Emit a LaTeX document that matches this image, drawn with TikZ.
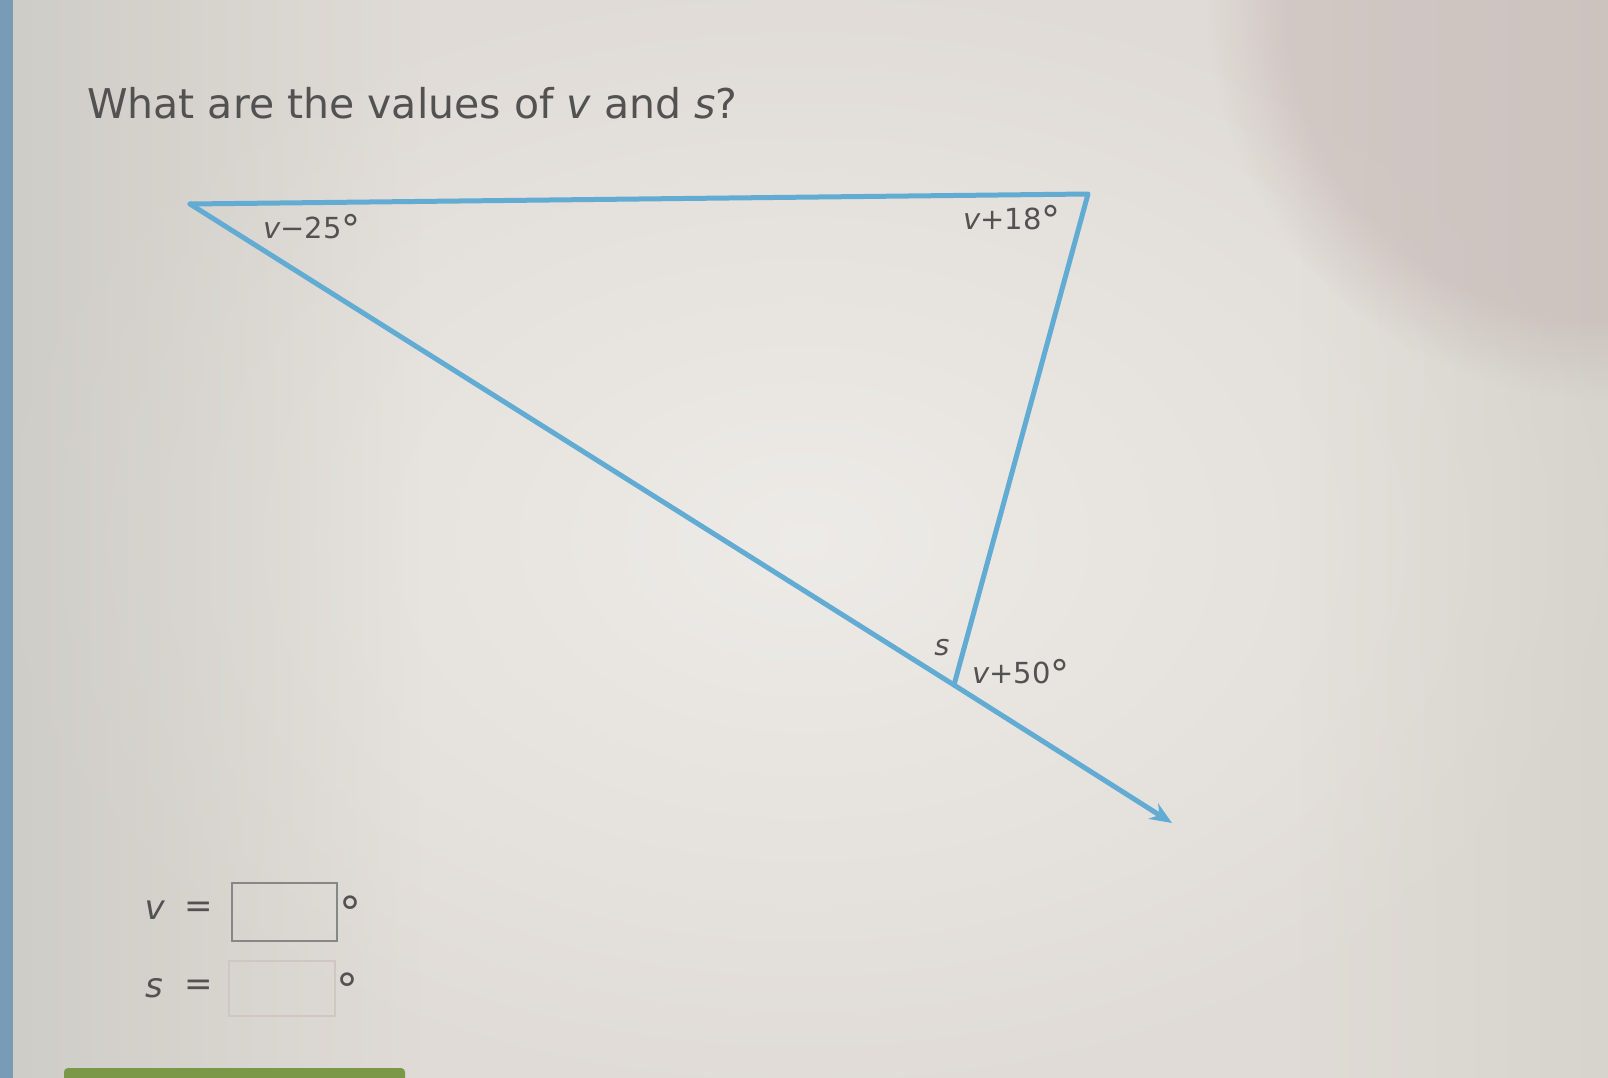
\documentclass[tikz,border=0pt]{standalone}
\usepackage{fontspec}
\setmainfont{DejaVu Sans}
\usetikzlibrary{arrows.meta,fadings}
\definecolor{bgmid}{RGB}{237,235,231}
\definecolor{bgout}{RGB}{224,219,214}
\definecolor{bgtr}{RGB}{192,176,175}
\definecolor{bgleft}{RGB}{198,198,192}
\definecolor{bgright}{RGB}{205,205,196}
\definecolor{strip}{RGB}{120,155,182}
\definecolor{lineblue}{RGB}{98,172,212}
\definecolor{txt}{RGB}{82,82,82}
\definecolor{boxdark}{RGB}{135,135,135}
\definecolor{boxfaint}{RGB}{208,198,194}
\definecolor{greenbar}{RGB}{122,152,72}
\newcommand{\dg}{{\fontsize{38}{38}\selectfont\raisebox{-4pt}{°}}}
\tikzset{
  edge/.style={draw=lineblue, line width=5pt, line cap=round, line join=round},
  lbl/.style={text=txt, font=\fontsize{29}{34}\selectfont, inner sep=0pt},
  ans/.style={text=txt, font=\fontsize{34}{40}\selectfont, inner sep=0pt},
  degans/.style={text=txt, font=\fontsize{44}{48}\selectfont, inner sep=0pt},
  answerbox/.style={line width=2pt, minimum width=105pt, minimum height=58pt, inner sep=0pt}
}
\begin{document}
\begin{tikzpicture}[x=1pt,y=-1pt]
\useasboundingbox (0,0) rectangle (1608,1078);
% background
\begin{scope}
\clip (0,0) rectangle (1608,1078);
\shade[inner color=bgmid, outer color=bgout, shading=radial] (-20,-20) rectangle (1628,1098);
\fill[bgleft, path fading=east, fill opacity=0.7] (-20,-20) rectangle (420,1098);
\fill[bgright, path fading=west, fill opacity=0.5] (1300,-20) rectangle (1628,1098);
\fill[bgtr, path fading=circle with fuzzy edge 20 percent, fill opacity=0.45] (1608,0) circle (400pt);
\fill[strip] (-5,-5) rectangle (13,1083);
\end{scope}
% title
\node[anchor=base west, text=txt, font=\fontsize{41}{48}\selectfont, inner sep=0pt] (title) at (87,119) {What are the values of \textit{v} and \textit{s}?};
% triangle
\coordinate (A) at (190,204);
\coordinate (B) at (1088,194);
\coordinate (C) at (954,685);
\coordinate (E) at (1172,823);
\draw[edge] (A) -- (B) -- (C);
\draw[edge, -{Stealth[length=22pt,width=18pt]}] (A) -- (C) -- (E);
% labels
\node[lbl] (la) at (312,228) {\textit{v}−25\dg};
\node[lbl] (lb) at (1012,219) {\textit{v}+18\dg};
\node[lbl] (ls) at (942,648) {\textit{s}};
\node[lbl] (lc) at (1021,673) {\textit{v}+50\dg};
% answers
\node[ans] (vv) at (155,910) {\textit{v}};
\node[ans] (veq) at (199,910) {=};
\node[answerbox, draw=boxdark] (vbox) at (284,912) {};
\node[degans] (vdeg) at (350,912) {°};
\node[ans] (ss) at (154,988) {\textit{s}};
\node[ans] (seq) at (199,988) {=};
\node[answerbox, draw=boxfaint, minimum width=106pt, minimum height=55pt] (sbox) at (282,988) {};
\node[degans] (sdeg) at (347,989) {°};
% green button edge
\fill[greenbar, rounded corners=4pt] (64,1068) rectangle (405,1090);
\end{tikzpicture}
\end{document}
